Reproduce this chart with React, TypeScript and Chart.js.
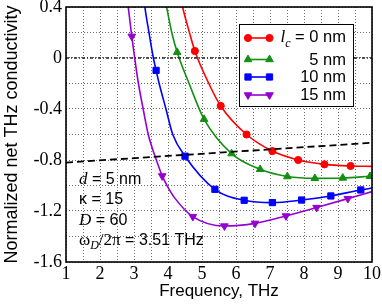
import { useEffect, useRef } from 'react';
import { Chart, registerables } from 'chart.js';

Chart.register(...registerables);

// ---- data ----
const curve0X = [4.34, 4.43, 4.63, 4.79, 5.2, 5.55, 6.31, 7.07, 7.83, 8.6, 9.37, 10];
const curve0Y = [0.52, 0.4, 0.2, 0.055, -0.2, -0.376, -0.6, -0.73, -0.8, -0.834, -0.847, -0.85];
const mark0X = [4.79, 5.55, 6.31, 7.07, 7.83, 8.6, 9.37];
const mark0Y = [0.055, -0.376, -0.6, -0.73, -0.8, -0.834, -0.847];

const curve5X = [3.88, 3.96, 4.11, 4.27, 4.62, 5.06, 5.87, 6.71, 7.51, 8.32, 9.14, 9.94, 10];
const curve5Y = [0.52, 0.4, 0.2, 0.045, -0.2, -0.48, -0.75, -0.873, -0.93, -0.944, -0.941, -0.928, -0.927];
const mark5X = [4.27, 5.06, 5.87, 6.71, 7.51, 8.32, 9.14, 9.94];
const mark5Y = [0.045, -0.48, -0.75, -0.873, -0.93, -0.944, -0.941, -0.928];

const curve10X = [3.27, 3.32, 3.44, 3.57, 3.65, 3.74, 3.94, 4.14, 4.5, 5.38, 6.24, 7.07, 7.93, 8.79, 9.67, 10];
const curve10Y = [0.52, 0.4, 0.2, 0, -0.097, -0.2, -0.4, -0.6, -0.77, -1.03, -1.116, -1.134, -1.114, -1.082, -1.035, -1.02];
const mark10X = [3.65, 4.5, 5.38, 6.24, 7.07, 7.93, 8.79, 9.67];
const mark10Y = [-0.097, -0.77, -1.03, -1.116, -1.134, -1.114, -1.082, -1.035];

const curve15X = [2.78, 2.83, 2.935, 3.02, 3.13, 3.27, 3.42, 3.65, 3.83, 3.98, 4.19, 4.73, 5.66, 6.56, 7.47, 8.37, 9.29, 10];
const curve15Y = [0.52, 0.4, 0.17, 0, -0.2, -0.4, -0.6, -0.795, -0.925, -1.005, -1.095, -1.244, -1.318, -1.297, -1.239, -1.173, -1.103, -1.048];
const mark15X = [2.935, 3.83, 4.73, 5.66, 6.56, 7.47, 8.37, 9.29];
const mark15Y = [0.17, -0.925, -1.244, -1.318, -1.297, -1.239, -1.173, -1.103];

const dashedX = [1, 10];
const dashedY = [-0.82, -0.665];
const zeroX = [1, 10];
const zeroY = [0, 0];

const seriesLabels = ['0 nm', '5 nm', '10 nm', '15 nm'];
const seriesColors = ['#ff0000', '#119011', '#0000ff', '#9400d3'];
const seriesStyles = ['circle', 'triangle', 'rect', 'triangleDown'];

const xTitle = 'Frequency, THz';
const yTitle = 'Normalized net THz conductivity';

const SANS = "'Liberation Sans', Arial, sans-serif";
const SERIF = "'Liberation Serif', 'Times New Roman', serif";

const toPts = (xs: number[], ys: number[]) => xs.map((x, i) => ({ x, y: ys[i] }));

type Seg = { t: string; f: string; dy?: number };

function drawRich(ctx: CanvasRenderingContext2D, x: number, y: number, segs: Seg[], align: 'left' | 'right' = 'left') {
  let total = 0;
  const widths = segs.map((s) => {
    ctx.font = s.f;
    const w = ctx.measureText(s.t).width;
    total += w;
    return w;
  });
  let cx = align === 'right' ? x - total : x;
  ctx.textAlign = 'left';
  ctx.textBaseline = 'alphabetic';
  segs.forEach((s, i) => {
    ctx.font = s.f;
    ctx.fillText(s.t, cx, y + (s.dy || 0));
    cx += widths[i];
  });
}

const RADIUS: Record<string, number> = { circle: 3.6, triangle: 4.4, rect: 4.4, triangleDown: 4.4 };

function drawMarker(ctx: CanvasRenderingContext2D, style: string, x: number, y: number, color: string) {
  const r = RADIUS[style];
  ctx.save();
  ctx.fillStyle = color;
  ctx.strokeStyle = color;
  ctx.lineWidth = 1;
  ctx.beginPath();
  if (style === 'circle') {
    ctx.arc(x, y, r, 0, Math.PI * 2);
  } else if (style === 'rect') {
    const s = r * Math.SQRT1_2;
    ctx.rect(x - s, y - s, 2 * s, 2 * s);
  } else {
    const dir = style === 'triangle' ? 1 : -1;
    for (let k = 0; k < 3; k++) {
      const a = (k * 2 * Math.PI) / 3;
      const px = x + Math.sin(a) * r;
      const py = y - dir * Math.cos(a) * r;
      if (k === 0) ctx.moveTo(px, py);
      else ctx.lineTo(px, py);
    }
    ctx.closePath();
  }
  ctx.fill();
  ctx.stroke();
  ctx.restore();
}

const overlayPlugin = {
  id: 'overlay',
  afterDraw(chart: any) {
    const ctx: CanvasRenderingContext2D = chart.ctx;
    const a = chart.chartArea;
    ctx.save();
    // frame
    ctx.strokeStyle = '#000';
    ctx.lineWidth = 1.6;
    ctx.strokeRect(a.left, a.top, a.right - a.left, a.bottom - a.top);

    // legend box
    const bx = 239.5, by = 24.5, bw = 114, bh = 82;
    ctx.fillStyle = '#fff';
    ctx.fillRect(bx, by, bw, bh);
    ctx.strokeStyle = '#000';
    ctx.lineWidth = 1;
    ctx.strokeRect(bx, by, bw, bh);
    const markerY = [38, 59.5, 77, 95];
    const baseY = [41.5, 64.5, 82, 100];
    const lx1 = 248, lx2 = 269.5, tx = 346;
    const lf = `16.5px ${SANS}`;
    seriesLabels.forEach((lab, i) => {
      ctx.strokeStyle = seriesColors[i];
      ctx.lineWidth = 1.6;
      ctx.beginPath();
      ctx.moveTo(lx1, markerY[i]);
      ctx.lineTo(lx2, markerY[i]);
      ctx.stroke();
      drawMarker(ctx, seriesStyles[i], lx1, markerY[i], seriesColors[i]);
      drawMarker(ctx, seriesStyles[i], lx2, markerY[i], seriesColors[i]);
      ctx.fillStyle = '#000';
      if (i === 0) {
        drawRich(ctx, tx, baseY[i], [
          { t: 'l', f: `italic 17px ${SERIF}` },
          { t: 'c', f: `italic 12px ${SERIF}`, dy: 5 },
          { t: ' = ' + lab, f: lf },
        ], 'right');
      } else {
        drawRich(ctx, tx, baseY[i], [{ t: lab, f: lf }], 'right');
      }
    });

    // parameter annotations
    ctx.fillStyle = '#000';
    const af = `16px ${SANS}`;
    const ax = 79;
    drawRich(ctx, ax, 184, [
      { t: 'd', f: `italic 17px ${SERIF}` },
      { t: ' = 5 nm', f: af },
    ]);
    drawRich(ctx, ax, 204, [{ t: 'κ = 15', f: af }]);
    drawRich(ctx, ax, 225, [
      { t: 'D', f: `italic 17px ${SERIF}` },
      { t: ' = 60', f: af },
    ]);
    drawRich(ctx, ax, 245, [
      { t: 'ω', f: `17px ${SERIF}` },
      { t: 'D', f: `italic 12px ${SERIF}`, dy: 4 },
      { t: '/2π', f: `17px ${SERIF}` },
      { t: ' = 3.51 THz', f: af },
    ]);
    ctx.restore();
  },
};

export default function App() {
  const ref = useRef<HTMLCanvasElement | null>(null);

  useEffect(() => {
    if (!ref.current) return;
    const curves = [
      toPts(curve0X, curve0Y),
      toPts(curve5X, curve5Y),
      toPts(curve10X, curve10Y),
      toPts(curve15X, curve15Y),
    ];
    const marks = [
      toPts(mark0X, mark0Y),
      toPts(mark5X, mark5Y),
      toPts(mark10X, mark10Y),
      toPts(mark15X, mark15Y),
    ];
    const datasets: any[] = [
      {
        data: toPts(zeroX, zeroY),
        borderColor: '#222',
        borderWidth: 1.4,
        borderDash: [3, 2, 1, 2],
        pointRadius: 0,
        tension: 0,
      },
      {
        data: toPts(dashedX, dashedY),
        borderColor: '#000',
        borderWidth: 1.8,
        borderDash: [7, 4],
        pointRadius: 0,
        tension: 0,
      },
    ];
    curves.forEach((c, i) => {
      datasets.push({
        data: c,
        borderColor: seriesColors[i],
        borderWidth: 1.6,
        pointRadius: 0,
        cubicInterpolationMode: 'monotone',
        fill: false,
      });
    });
    marks.forEach((m, i) => {
      const st = seriesStyles[i];
      datasets.push({
        data: m,
        showLine: false,
        pointStyle: st === 'triangleDown' ? 'triangle' : st,
        rotation: st === 'triangleDown' ? 180 : 0,
        pointRadius: RADIUS[st],
        pointBorderWidth: 1,
        pointBackgroundColor: seriesColors[i],
        pointBorderColor: seriesColors[i],
        borderColor: seriesColors[i],
        backgroundColor: seriesColors[i],
      });
    });

    const chart = new Chart(ref.current, {
      type: 'line',
      data: { datasets },
      options: {
        animation: false,
        responsive: false,
        maintainAspectRatio: false,
        layout: { padding: { left: 0, right: 10, top: 7, bottom: 0 } },
        plugins: { legend: { display: false }, tooltip: { enabled: false } },
        scales: {
          x: {
            type: 'linear',
            min: 1,
            max: 10,
            afterFit: (s: any) => {
              s.height = 43;
              s.paddingLeft = 0;
              s.paddingRight = 0;
            },
            ticks: {
              stepSize: 0.5,
              autoSkip: false,
              maxRotation: 0,
              padding: 1,
              color: '#000',
              font: { family: SERIF, size: 18, lineHeight: 1.2 },
              callback: (v: any) => {
                const n = Number(v);
                return Math.abs(n - Math.round(n)) < 1e-6 ? String(Math.round(n)) : '';
              },
            },
            grid: { color: '#6e6e6e', lineWidth: 1, drawTicks: false },
            border: { display: false, dash: [1, 2] },
            title: {
              display: true,
              text: xTitle,
              color: '#000',
              font: { family: SANS, size: 17, lineHeight: 1.2 },
              padding: { top: 0, bottom: 3 },
            },
          },
          y: {
            type: 'linear',
            min: -1.6,
            max: 0.4,
            afterFit: (s: any) => {
              s.width = 66;
              s.paddingTop = 0;
              s.paddingBottom = 0;
            },
            ticks: {
              stepSize: 0.2,
              autoSkip: false,
              padding: 4,
              color: '#000',
              font: { family: SERIF, size: 18, lineHeight: 1.2 },
              callback: (v: any) => {
                const k = Math.round(Number(v) * 10);
                return k % 4 === 0 ? String(k / 10) : '';
              },
            },
            grid: { color: '#6e6e6e', lineWidth: 1, drawTicks: false },
            border: { display: false, dash: [1, 2] },
            title: {
              display: true,
              text: yTitle,
              color: '#000',
              font: { family: SANS, size: 18, lineHeight: 1.2 },
              padding: { top: 1, bottom: 0 },
            },
          },
        },
      },
      plugins: [overlayPlugin],
    });
    return () => chart.destroy();
  }, []);

  return (
    <div style={{ position: 'absolute', left: 0, top: 0, width: 382, height: 305, background: '#fff' }}>
      <canvas ref={ref} width={382} height={305} style={{ display: 'block' }} />
    </div>
  );
}
